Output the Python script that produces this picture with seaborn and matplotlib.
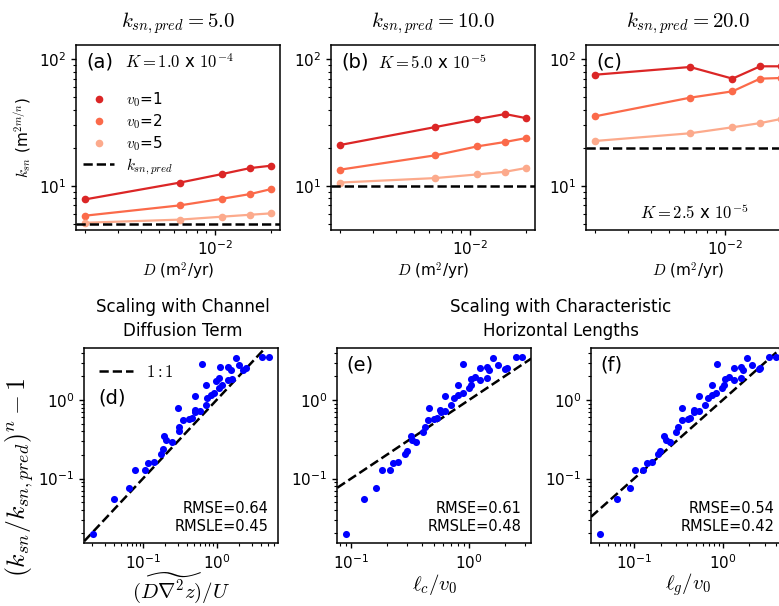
import matplotlib
matplotlib.use("Agg")
import matplotlib.pyplot as plt
from matplotlib.lines import Line2D
from matplotlib.ticker import NullFormatter
import pandas as pd
import seaborn as sns

# ---------------- data ----------------
D_vals = [0.002, 0.0065, 0.011, 0.0155, 0.02]
v0_labels = ["1", "2", "5"]
ksn_pred = [5.0, 10.0, 20.0]

ksn_a_v1 = [7.8, 10.6, 12.4, 13.8, 14.4]
ksn_a_v2 = [5.8, 7.0, 7.9, 8.6, 9.4]
ksn_a_v5 = [5.1, 5.4, 5.7, 5.9, 6.05]
ksn_b_v1 = [21.0, 29.1, 33.7, 36.9, 34.3]
ksn_b_v2 = [13.4, 17.4, 20.5, 22.2, 23.8]
ksn_b_v5 = [10.6, 11.5, 12.3, 12.9, 13.8]
ksn_c_v1 = [75.5, 86.9, 70.3, 88.0, 88.0]
ksn_c_v2 = [35.4, 49.7, 55.8, 70.3, 71.1]
ksn_c_v5 = [22.6, 26.0, 29.0, 31.3, 33.7]

top_titles = [r"$k_{sn,pred} = 5.0$", r"$k_{sn,pred} = 10.0$", r"$k_{sn,pred} = 20.0$"]
K_texts = [r"$K = 1.0$ x $10^{-4}$", r"$K = 5.0$ x $10^{-5}$", r"$K = 2.5$ x $10^{-5}$"]
top_panel_labels = ["(a)", "(b)", "(c)"]

d_x = [0.021, 0.040, 0.065, 0.078, 0.105, 0.118, 0.142, 0.176, 0.189, 0.195, 0.206,
       0.249, 0.313, 0.313, 0.348, 0.303, 0.425, 0.468, 0.503, 0.514, 0.589, 0.503,
       0.633, 0.727, 0.75, 0.833, 0.727, 0.924, 0.975, 1.08, 1.12, 1.07, 1.17, 1.44,
       1.55, 1.60, 1.44, 1.83, 2.03, 2.49, 2.31, 4.12, 5.24]
d_y = [0.0194, 0.0544, 0.0767, 0.128, 0.128, 0.158, 0.164, 0.204, 0.237, 0.343, 0.311,
       0.291, 0.398, 0.452, 0.561, 0.79, 0.577, 0.589, 0.752, 0.697, 0.716, 1.135,
       2.91, 0.871, 1.061, 1.169, 1.54, 1.23, 1.73, 1.91, 2.61, 1.42, 1.54, 2.64,
       2.44, 1.87, 1.82, 3.44, 2.77, 2.56, 2.44, 3.51, 3.51]
e_x = [0.0906, 0.128, 0.163, 0.181, 0.213, 0.228, 0.249, 0.284, 0.295, 0.319, 0.327,
       0.357, 0.406, 0.420, 0.448, 0.454, 0.504, 0.531, 0.566, 0.574, 0.630, 0.630,
       0.889, 0.708, 0.745, 0.805, 0.805, 0.884, 0.994, 1.033, 1.048, 1.133, 1.25,
       1.25, 1.41, 1.48, 1.41, 1.61, 1.76, 2.01, 2.08, 2.48, 2.84]
f_x = [0.0409, 0.0647, 0.0894, 0.1026, 0.1265, 0.139, 0.157, 0.187, 0.197, 0.219, 0.226,
       0.254, 0.297, 0.315, 0.343, 0.350, 0.402, 0.431, 0.470, 0.478, 0.541, 0.541,
       0.855, 0.632, 0.676, 0.75, 0.75, 0.849, 0.993, 1.045, 1.064, 1.18, 1.35,
       1.35, 1.59, 1.69, 1.59, 1.89, 2.13, 2.54, 2.65, 3.35, 4.02]
ef_y = [0.0194, 0.0544, 0.0767, 0.128, 0.128, 0.158, 0.164, 0.204, 0.225, 0.343, 0.311,
        0.291, 0.39, 0.452, 0.561, 0.79, 0.577, 0.589, 0.752, 0.697, 0.716, 1.135,
        2.91, 0.871, 1.061, 1.169, 1.54, 1.23, 1.42, 1.54, 1.85, 1.97, 1.82, 2.56,
        2.64, 2.39, 1.91, 3.44, 2.77, 2.47, 2.56, 3.51, 3.51]

rmse_texts = ["RMSE=0.64\nRMSLE=0.45", "RMSE=0.61\nRMSLE=0.48", "RMSE=0.54\nRMSLE=0.42"]
bottom_xlabels = [r"$(\widetilde{D\nabla^2 z})/U$", r"$\ell_c/v_0$", r"$\ell_g/v_0$"]
bottom_panel_labels = ["(d)", "(e)", "(f)"]

# ---------------- style ----------------
sns.set_style("ticks")
plt.rcParams.update({
    "font.family": ["DejaVu Sans"],
    "mathtext.fontset": "cm",
    "axes.edgecolor": "black",
    "axes.linewidth": 1.1,
    "xtick.color": "black",
    "ytick.color": "black",
    "xtick.labelsize": 11,
    "ytick.labelsize": 11,
    "xtick.major.size": 3.5,
    "ytick.major.size": 3.5,
    "xtick.minor.size": 2,
    "ytick.minor.size": 2,
    "xtick.major.width": 1.0,
    "ytick.major.width": 1.0,
    "xtick.minor.width": 0.8,
    "ytick.minor.width": 0.8,
    "axes.labelcolor": "black",
    "text.color": "black",
})

palette = {"1": "#db2626", "2": "#fb6a4a", "5": "#fcaa8c"}

W, H = 779, 606
fig = plt.figure(figsize=(W / 100, H / 100), dpi=100)

top_lefts = [75.7, 330.7, 585.7]
bot_lefts = [84.3, 337.3, 591.0]

def rect(x0, y0, w, h):
    return [x0 / W, (H - y0 - h) / H, w / W, h / H]

top_series = [[ksn_a_v1, ksn_a_v2, ksn_a_v5],
              [ksn_b_v1, ksn_b_v2, ksn_b_v5],
              [ksn_c_v1, ksn_c_v2, ksn_c_v5]]

top_axes = []
for i in range(3):
    ax = fig.add_axes(rect(top_lefts[i], 45.3, 204.3, 184.7))
    ax.set_xscale("log")
    ax.set_yscale("log")
    rows = []
    for lab, vals in zip(v0_labels, top_series[i]):
        for d, k in zip(D_vals, vals):
            rows.append({"D": d, "ksn": k, "v0": lab})
    df = pd.DataFrame(rows)
    sns.lineplot(data=df, x="D", y="ksn", hue="v0", hue_order=v0_labels,
                 palette=palette, marker="o", markersize=5.5, markeredgewidth=0,
                 linewidth=1.6, legend=False, ax=ax)
    ax.axhline(ksn_pred[i], color="black", ls="--", lw=1.8)
    ax.set_ylim(4.47, 129)
    ax.xaxis.set_minor_formatter(NullFormatter())
    ax.yaxis.set_minor_formatter(NullFormatter())
    ax.set_title(top_titles[i], fontsize=15, pad=13)
    ax.set_xlabel(r"$D$ (m$^2$/yr)", fontsize=11, labelpad=2)
    ax.set_ylabel("")
    ax.text(0.05, 0.91, top_panel_labels[i], transform=ax.transAxes,
            fontsize=14, ha="left", va="center")
    top_axes.append(ax)

top_axes[0].set_ylabel(r"$k_{sn}$ (m$^{2m/n}$)", fontsize=11)
top_axes[0].text(0.24, 0.905, K_texts[0], transform=top_axes[0].transAxes,
                 fontsize=12, ha="left", va="center")
top_axes[1].text(0.233, 0.905, K_texts[1], transform=top_axes[1].transAxes,
                 fontsize=12, ha="left", va="center")
top_axes[2].text(0.53, 0.09, K_texts[2], transform=top_axes[2].transAxes,
                 fontsize=12, ha="center", va="center")

handles = [Line2D([], [], ls="none", marker="o", markersize=5.5, markeredgewidth=0,
                  color=palette[l]) for l in v0_labels]
handles.append(Line2D([], [], color="black", ls="--", lw=1.8))
labels = [r"$v_0$=1", r"$v_0$=2", r"$v_0$=5", r"$k_{sn,pred}$"]
top_axes[0].legend(handles, labels, loc="upper left", bbox_to_anchor=(-0.03, 0.83),
                   frameon=False, fontsize=11, handlelength=2.0, labelspacing=0.22)

bottom_x = [d_x, e_x, f_x]
bottom_y = [d_y, ef_y, ef_y]
label_pos = [(0.071, 0.745), (0.045, 0.916), (0.05, 0.916)]
bot_axes = []
for i in range(3):
    ax = fig.add_axes(rect(bot_lefts[i], 348.3, 194, 195))
    ax.set_xscale("log")
    ax.set_yscale("log")
    sns.scatterplot(x=bottom_x[i], y=bottom_y[i], color="#0000ff", s=26,
                    linewidth=0, zorder=3, ax=ax)
    ln = ax.axline((0.2, 0.2), (1.0, 1.0), color="black", ls="--", lw=1.8, zorder=2)
    ax.xaxis.set_minor_formatter(NullFormatter())
    ax.yaxis.set_minor_formatter(NullFormatter())
    ax.set_xlabel(bottom_xlabels[i], fontsize=15, labelpad=0)
    ax.text(0.948, 0.05, rmse_texts[i], transform=ax.transAxes, fontsize=10.5,
            ha="right", va="bottom", linespacing=1.25)
    ax.text(label_pos[i][0], label_pos[i][1], bottom_panel_labels[i],
            transform=ax.transAxes, fontsize=14, ha="left", va="center")
    if i == 0:
        ax.legend([ln], [r"$1{:}1$"], loc="upper left", frameon=False, fontsize=12,
                  handlelength=2.0)
    bot_axes.append(ax)

bot_axes[0].set_ylabel(r"$(k_{sn}/k_{sn,pred})^n - 1$", fontsize=18.5)
bot_axes[0].yaxis.set_label_coords(-0.25, 0.34)

fig.text(182.5 / W, 1 - 340 / H, "Scaling with Channel\nDiffusion Term",
         ha="center", va="bottom", fontsize=12, linespacing=1.45)
fig.text(561 / W, 1 - 340 / H, "Scaling with Characteristic\nHorizontal Lengths",
         ha="center", va="bottom", fontsize=12, linespacing=1.45)

fig.savefig("out.png", dpi=100)
